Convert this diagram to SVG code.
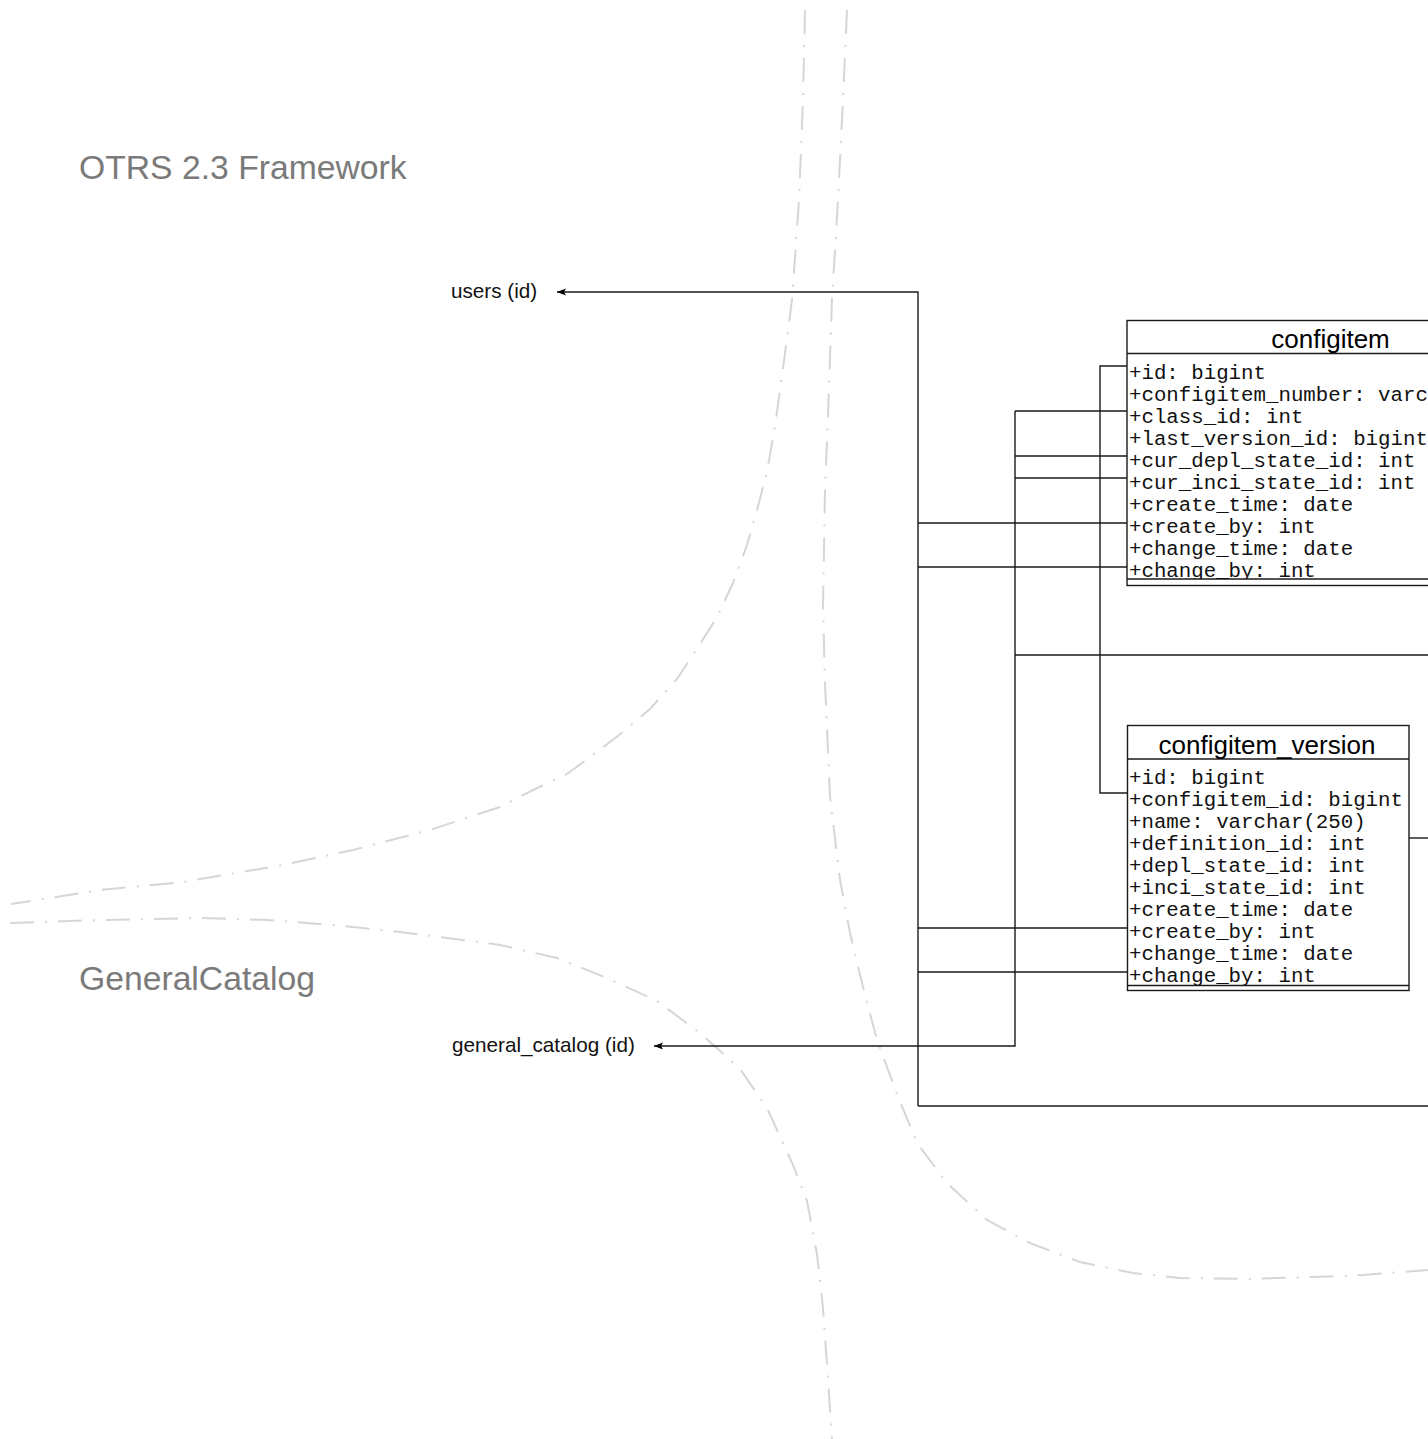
<svg xmlns="http://www.w3.org/2000/svg" width="1428" height="1439" viewBox="0 0 1428 1439">
<style>
.bg{fill:#ffffff}
.zone{fill:none;stroke:#d6d6d6;stroke-width:2;stroke-dasharray:24 11 2 11}
.pkg{font-family:"Liberation Sans",Arial,sans-serif;font-size:33.7px;fill:#7a7a7a}
.ext{font-family:"Liberation Sans",Arial,sans-serif;font-size:20.7px;fill:#111}
.conn{fill:none;stroke:#1a1a1a;stroke-width:1.4}
.box{fill:#ffffff;stroke:#1a1a1a;stroke-width:1.4}
.sep{stroke:#1a1a1a;stroke-width:1.4}
.title{font-family:"Liberation Sans",Arial,sans-serif;font-size:26px;fill:#000;text-anchor:middle}
.attr{font-family:"Liberation Mono","Courier New",monospace;font-size:20.75px;fill:#111}
</style>
<defs>
<marker id="arr" markerWidth="12" markerHeight="10" refX="9" refY="5" orient="auto" markerUnits="userSpaceOnUse">
<path d="M9,5 L0,1.5 L2,5 L0,8.5 Z" fill="#000"/>
</marker>
<clipPath id="clipA"><rect x="1127" y="354" width="420" height="225"/></clipPath>
<clipPath id="clipB"><rect x="1127" y="760" width="282" height="225"/></clipPath>
</defs>
<rect class="bg" x="0" y="0" width="1428" height="1439"/>

<g id="zones">
<path class="zone" d="M805,10 L803,100 L799,200 L792,300 L787,338 L782,376 L775,426 L767,472 L757,510 L747,545 L733,583 L717,617 L700,644 L677,679 L650,709 L623,732 L593,755 L567,774 L533,790 L500,807 L430,830 L353,850 L283,865 L183,882 L100,890 L11,904"/>
<path class="zone" d="M847,10 L843,100 L838,200 L832,300 L828,415 L825,491 L823,606 L825,683 L830,797 L840,880 L850,933 L863,987 L877,1040 L897,1094 L917,1143 L947,1183 L987,1220 L1030,1243 L1080,1262 L1133,1273 L1180,1278 L1247,1279 L1313,1277 L1363,1275 L1428,1270"/>
<path class="zone" d="M10,923 L100,920 L200,918 L267,920 L333,925 L400,932 L487,943 L500,945 L557,958 L607,978 L657,1001 L700,1033 L740,1069 L767,1108 L793,1165 L807,1201 L817,1254 L823,1308 L828,1379 L832,1439"/>
</g>

<g id="labels">
<text class="pkg" x="79" y="179">OTRS 2.3 Framework</text>
<text class="pkg" x="79" y="990">GeneralCatalog</text>
</g>

<g id="ext-users"><text class="ext" x="451" y="298">users (id)</text></g>
<g id="ext-general_catalog"><text class="ext" x="452" y="1052">general_catalog (id)</text></g>

<g id="connectors">
<path class="conn" d="M918,1106 V292 H557" marker-end="url(#arr)"/>
<path class="conn" d="M918,523 H1127 M918,567 H1127 M918,928 H1127 M918,972 H1127 M918,1106 H1428"/>
<path class="conn" d="M1015,411 V1046 H654" marker-end="url(#arr)"/>
<path class="conn" d="M1015,411 H1127 M1015,456 H1127 M1015,478 H1127 M1015,655 H1428"/>
<path class="conn" d="M1127,366 H1100 V793 H1127"/>
<path class="conn" d="M1409,838 H1428"/>
</g>

<g id="configitem">
<rect class="box" x="1127" y="320.5" width="407" height="265"/>
<line class="sep" x1="1127" y1="353.5" x2="1534" y2="353.5"/>
<line class="sep" x1="1127" y1="579" x2="1534" y2="579"/>
<text class="title" x="1330.5" y="348">configitem</text>
<g clip-path="url(#clipA)">
<text class="attr" x="1129" y="378.8">+id: bigint</text>
<text class="attr" x="1129" y="400.8">+configitem_number: varc</text>
<text class="attr" x="1129" y="422.9">+class_id: int</text>
<text class="attr" x="1129" y="444.9">+last_version_id: bigint</text>
<text class="attr" x="1129" y="467">+cur_depl_state_id: int</text>
<text class="attr" x="1129" y="489">+cur_inci_state_id: int</text>
<text class="attr" x="1129" y="511.1">+create_time: date</text>
<text class="attr" x="1129" y="533.1">+create_by: int</text>
<text class="attr" x="1129" y="555.2">+change_time: date</text>
<text class="attr" x="1129" y="577.2">+change_by: int</text>
</g>
</g>

<g id="configitem_version">
<rect class="box" x="1127.5" y="725.5" width="281.5" height="265"/>
<line class="sep" x1="1127.5" y1="759" x2="1409" y2="759"/>
<line class="sep" x1="1127.5" y1="985.5" x2="1409" y2="985.5"/>
<text class="title" x="1267" y="754">configitem_version</text>
<g clip-path="url(#clipB)">
<text class="attr" x="1129" y="783.8">+id: bigint</text>
<text class="attr" x="1129" y="805.8">+configitem_id: bigint</text>
<text class="attr" x="1129" y="827.9">+name: varchar(250)</text>
<text class="attr" x="1129" y="849.9">+definition_id: int</text>
<text class="attr" x="1129" y="872">+depl_state_id: int</text>
<text class="attr" x="1129" y="894">+inci_state_id: int</text>
<text class="attr" x="1129" y="916.1">+create_time: date</text>
<text class="attr" x="1129" y="938.1">+create_by: int</text>
<text class="attr" x="1129" y="960.2">+change_time: date</text>
<text class="attr" x="1129" y="982.2">+change_by: int</text>
</g>
</g>
</svg>
